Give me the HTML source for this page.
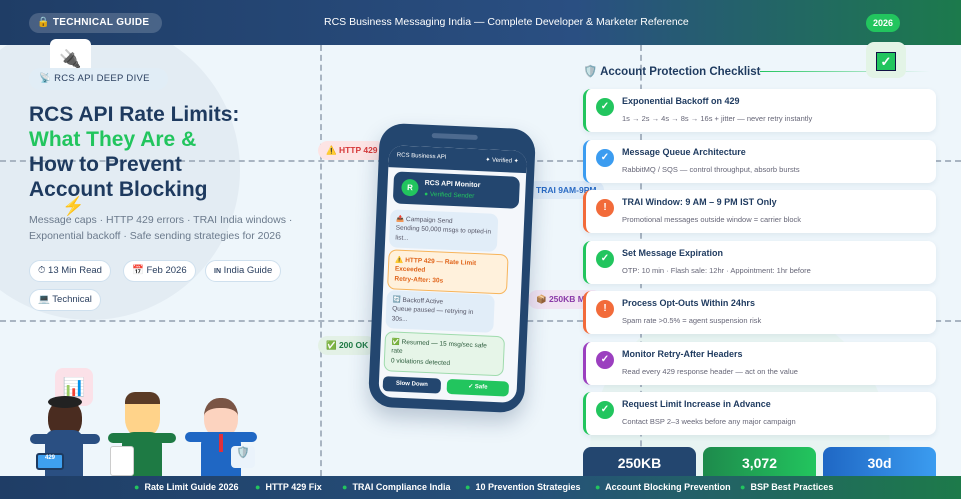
<!DOCTYPE html>
<html style="width:961px;height:499px;overflow:hidden"><head><meta charset="utf-8"><style>
*{margin:0;padding:0;box-sizing:border-box}
body{width:961px;height:499px;overflow:hidden;background:#eef6fb;font-family:"Liberation Sans",sans-serif;position:relative;color:#1e3a5f}
.abs{position:absolute;white-space:nowrap}
.hdr{left:0;top:0;width:961px;height:45px;background:linear-gradient(90deg,#1f3d66 0%,#2a4f82 60%,#1c7a4c 100%)}
.ftr{left:0;top:476px;width:961px;height:23px;background:linear-gradient(90deg,#1f3d66 0%,#26507a 55%,#1d7a4a 100%);color:#fff;font-size:9px;font-weight:bold}
.pill{border-radius:20px;background:#fff;border:1px solid #cfe0ee;font-size:9.5px;color:#2a3f5f;padding:0 8px;height:22px;line-height:20px}
.card{left:583px;width:353px;height:43px;background:#fff;border-radius:8px;border-left:3px solid #22c55e;box-shadow:0 2px 6px rgba(30,60,100,.08)}
.card .ic{position:absolute;left:10px;top:9px;width:18px;height:18px;border-radius:50%;color:#fff;font-size:10px;font-weight:bold;text-align:center;line-height:18px}
.card .t{position:absolute;left:36px;top:7px;font-size:9px;font-weight:bold;color:#1e3a5f}
.card .s{position:absolute;left:36px;top:25px;font-size:7.5px;color:#667}
.dash{border-top:2px dashed #a9b5c2;height:0}
.vdash{border-left:2px dashed #a9b5c2;width:0}
.tag{border-radius:10px;font-size:8.5px;font-weight:bold;padding:4px 8px}
.stat{top:447px;width:113px;height:32px;border-radius:8px 8px 0 0;color:#fff;font-weight:bold;font-size:14px;text-align:center;padding-top:8px}
.bub{position:absolute;left:12px;width:122px;border-radius:8px;font-size:6.5px;padding:5px 6px;line-height:1.45;white-space:normal}
</style></head><body>
<div class="abs" style="left:-60px;top:20px;width:300px;height:300px;border-radius:50%;background:#e3ecf3"></div>
<div class="abs" style="left:590px;top:300px;width:300px;height:176px;border-radius:150px 150px 0 0;background:#e6f4ee;opacity:.7"></div>
<div class="abs dash" style="left:0;top:160px;width:961px"></div>
<div class="abs dash" style="left:0;top:320px;width:961px"></div>
<div class="abs vdash" style="left:320px;top:45px;height:431px"></div>
<div class="abs vdash" style="left:640px;top:45px;height:431px"></div>

<div class="abs hdr"></div>
<div class="abs" style="left:29px;top:13px;width:133px;height:20px;border-radius:10px;background:rgba(255,255,255,.18);color:#fff;font-size:10px;font-weight:bold;padding:4px 8px;letter-spacing:.3px">🔒 TECHNICAL GUIDE</div>
<div class="abs" style="left:324px;top:16px;color:#fff;font-size:10.5px">RCS Business Messaging India — Complete Developer &amp; Marketer Reference</div>
<div class="abs" style="left:866px;top:14px;width:34px;height:18px;border-radius:9px;background:#22c55e;color:#fff;font-size:9px;font-weight:bold;text-align:center;line-height:18px">2026</div>

<div class="abs" style="left:50px;top:39px;width:41px;height:40px;background:#fff;border-radius:6px;text-align:center;font-size:18px;line-height:40px">🔌</div>
<div class="abs" style="left:29px;top:68px;width:139px;height:22px;border-radius:11px;background:#e1edf6;font-size:9.5px;color:#2a3f5f;padding:5px 10px;letter-spacing:.3px">📡 RCS API DEEP DIVE</div>
<div class="abs" style="left:29px;top:102px;font-size:21px;font-weight:bold;line-height:25px;color:#1e3a5f">RCS API Rate Limits:<br><span style="color:#22c55e">What They Are &amp;</span><br>How to Prevent<br>Account Blocking</div>
<div class="abs" style="left:62px;top:196px;font-size:18px">⚡</div>
<div class="abs" style="left:29px;top:212px;font-size:10.5px;line-height:16px;color:#6b7a8c">Message caps · HTTP 429 errors · TRAI India windows ·<br>Exponential backoff · Safe sending strategies for 2026</div>
<div class="abs pill" style="left:29px;top:260px">⏱ 13 Min Read</div>
<div class="abs pill" style="left:123px;top:260px">📅 Feb 2026</div>
<div class="abs pill" style="left:205px;top:260px"><b style="font-size:7px">IN</b> India Guide</div>
<div class="abs pill" style="left:29px;top:289px">💻 Technical</div>

<!-- characters -->
<div class="abs" style="left:55px;top:368px;width:38px;height:38px;border-radius:8px;background:#fbe1e8;text-align:center;line-height:38px;font-size:18px">📊</div>
<div class="abs" style="left:48px;top:400px;width:34px;height:38px;border-radius:45%;background:#4a2c20"></div>
<div class="abs" style="left:48px;top:396px;width:34px;height:12px;border-radius:50%;background:#222"></div>
<div class="abs" style="left:45px;top:430px;width:38px;height:46px;border-radius:10px 10px 0 0;background:#2a4f82"></div>
<div class="abs" style="left:30px;top:434px;width:70px;height:10px;border-radius:5px;background:#2a4f82"></div>
<div class="abs" style="left:36px;top:453px;width:28px;height:17px;border-radius:3px;background:#3ea0f0;border:2px solid #1e3a5f;color:#fff;font-size:6px;text-align:center;font-weight:bold">429</div>
<div class="abs" style="left:125px;top:392px;width:35px;height:45px;border-radius:10px 10px 40% 40%;background:#ffd38a;border-top:12px solid #5a3b26"></div>
<div class="abs" style="left:122px;top:432px;width:40px;height:44px;border-radius:12px 12px 0 0;background:#1e7a44"></div>
<div class="abs" style="left:108px;top:433px;width:68px;height:10px;border-radius:5px;background:#1e7a44"></div>
<div class="abs" style="left:110px;top:446px;width:24px;height:30px;border-radius:3px;background:#fff;border:1px solid #ccc"></div>
<div class="abs" style="left:204px;top:398px;width:34px;height:40px;border-radius:45%;background:#fcd3bf;border-top:10px solid #7a5545"></div>
<div class="abs" style="left:201px;top:432px;width:40px;height:44px;border-radius:12px 12px 0 0;background:#1f67c4"></div>
<div class="abs" style="left:185px;top:432px;width:72px;height:10px;border-radius:5px;background:#1f67c4"></div>
<div class="abs" style="left:219px;top:434px;width:4px;height:18px;background:#e0303a"></div>
<div class="abs" style="left:231px;top:446px;width:24px;height:22px;border-radius:4px;background:#eaf3fb;text-align:center;font-size:11px">🛡️</div>

<!-- tags -->
<div class="abs tag" style="left:318px;top:141px;background:#fde4e4;color:#d63a3a">⚠️ HTTP 429</div>
<div class="abs tag" style="left:528px;top:181px;background:#deebf8;color:#2a6bc4">TRAI 9AM-9PM</div>
<div class="abs tag" style="left:528px;top:290px;background:#f1e3f3;color:#8a3aa8">📦 250KB Max</div>
<div class="abs tag" style="left:318px;top:336px;background:#e3f1e6;color:#1e7a44">✅ 200 OK</div>

<!-- phone -->
<div class="abs" style="left:374px;top:126px;width:156px;height:284px;border-radius:24px;background:#23466f;transform:rotate(2.5deg);box-shadow:0 10px 20px rgba(30,60,100,.25)">
  <div class="abs" style="left:52px;top:8px;width:46px;height:5px;border-radius:3px;background:#4d6a8f"></div>
  <div class="abs" style="left:10px;top:22px;width:138px;height:252px;border-radius:14px;background:#f4f7fb;overflow:hidden">
    <div class="abs" style="left:0;top:0;width:138px;height:22px;background:#23466f;color:#fff;font-size:6px;padding:7px 8px">RCS Business API<span style="float:right">✦ Verified ✦</span></div>
    <div class="abs" style="left:6px;top:26px;width:126px;height:32px;border-radius:8px;background:#23466f">
      <div class="abs" style="left:8px;top:7px;width:17px;height:17px;border-radius:50%;background:#22c55e;color:#fff;font-size:8px;font-weight:bold;text-align:center;line-height:17px">R</div>
      <div class="abs" style="left:31px;top:7px;color:#fff;font-size:7px;font-weight:bold">RCS API Monitor</div>
      <div class="abs" style="left:31px;top:18px;color:#22c55e;font-size:6.5px">● Verified Sender</div>
    </div>
    <div class="bub" style="left:4px;top:64px;width:108px;background:#e1edf8;color:#556">📤 Campaign Send<br>Sending 50,000 msgs to opted-in list...</div>
    <div class="bub" style="left:4px;top:104px;width:120px;background:#fff1dc;border:1px solid #f7b45a;color:#e0641a;font-weight:bold">⚠️ HTTP 429 — Rate Limit Exceeded<br>Retry-After: 30s</div>
    <div class="bub" style="left:4px;top:145px;width:108px;background:#e1edf8;color:#556">🔄 Backoff Active<br>Queue paused — retrying in 30s...</div>
    <div class="bub" style="left:4px;top:186px;width:120px;background:#e6f5e8;border:1px solid #9fdbad;color:#2a5a3a">✅ Resumed — 15 msg/sec safe rate<br>0 violations detected</div>
    <div class="abs" style="left:4px;top:231px;width:58px;height:15px;border-radius:5px;background:#23466f;color:#fff;font-size:6px;font-weight:bold;text-align:center;line-height:15px">Slow Down</div>
    <div class="abs" style="left:68px;top:231px;width:62px;height:15px;border-radius:5px;background:#22c55e;color:#fff;font-size:6px;font-weight:bold;text-align:center;line-height:15px">✓ Safe</div>
  </div>
</div>

<!-- checklist -->
<div class="abs" style="left:583px;top:64px;font-size:11.5px;font-weight:bold;color:#1e3a5f">🛡️ Account Protection Checklist</div>
<div class="abs" style="left:760px;top:71px;width:170px;height:1px;background:linear-gradient(90deg,#22c55e,rgba(34,197,94,0))"></div>
<div class="abs" style="left:866px;top:42px;width:40px;height:36px;border-radius:8px;background:#e3f4e6"></div>
<div class="abs" style="left:876px;top:52px;width:20px;height:19px;background:#22c55e;border:1px solid #114;color:#fff;font-size:13px;text-align:center;line-height:17px;font-weight:bold">✓</div>

<div class="abs card" style="top:89px"><div class="ic" style="background:#22c55e">✓</div><div class="t">Exponential Backoff on 429</div><div class="s">1s → 2s → 4s → 8s → 16s + jitter — never retry instantly</div></div>
<div class="abs card" style="top:140px;border-left-color:#3b9cf0"><div class="ic" style="background:#3b9cf0">✓</div><div class="t">Message Queue Architecture</div><div class="s">RabbitMQ / SQS — control throughput, absorb bursts</div></div>
<div class="abs card" style="top:190px;border-left-color:#f26b3a"><div class="ic" style="background:#f26b3a">!</div><div class="t">TRAI Window: 9 AM – 9 PM IST Only</div><div class="s">Promotional messages outside window = carrier block</div></div>
<div class="abs card" style="top:241px"><div class="ic" style="background:#22c55e">✓</div><div class="t">Set Message Expiration</div><div class="s">OTP: 10 min · Flash sale: 12hr · Appointment: 1hr before</div></div>
<div class="abs card" style="top:291px;border-left-color:#f26b3a"><div class="ic" style="background:#f26b3a">!</div><div class="t">Process Opt-Outs Within 24hrs</div><div class="s">Spam rate &gt;0.5% = agent suspension risk</div></div>
<div class="abs card" style="top:342px;border-left-color:#9b3fbf"><div class="ic" style="background:#9b3fbf">✓</div><div class="t">Monitor Retry-After Headers</div><div class="s">Read every 429 response header — act on the value</div></div>
<div class="abs card" style="top:392px"><div class="ic" style="background:#22c55e">✓</div><div class="t">Request Limit Increase in Advance</div><div class="s">Contact BSP 2–3 weeks before any major campaign</div></div>

<div class="abs stat" style="left:583px;background:#23466f">250KB</div>
<div class="abs stat" style="left:703px;background:linear-gradient(90deg,#1e8a4c,#22c55e)">3,072</div>
<div class="abs stat" style="left:823px;background:linear-gradient(90deg,#1f67c4,#3b9cf0)">30d</div>

<div class="abs ftr">
  <span class="abs" style="left:134px;top:6px"><span style="color:#22c55e">●</span>&nbsp; Rate Limit Guide 2026</span>
  <span class="abs" style="left:255px;top:6px"><span style="color:#22c55e">●</span>&nbsp; HTTP 429 Fix</span>
  <span class="abs" style="left:342px;top:6px"><span style="color:#22c55e">●</span>&nbsp; TRAI Compliance India</span>
  <span class="abs" style="left:465px;top:6px"><span style="color:#22c55e">●</span>&nbsp; 10 Prevention Strategies</span>
  <span class="abs" style="left:595px;top:6px"><span style="color:#22c55e">●</span>&nbsp; Account Blocking Prevention</span>
  <span class="abs" style="left:740px;top:6px"><span style="color:#22c55e">●</span>&nbsp; BSP Best Practices</span>
</div>
</body></html>
